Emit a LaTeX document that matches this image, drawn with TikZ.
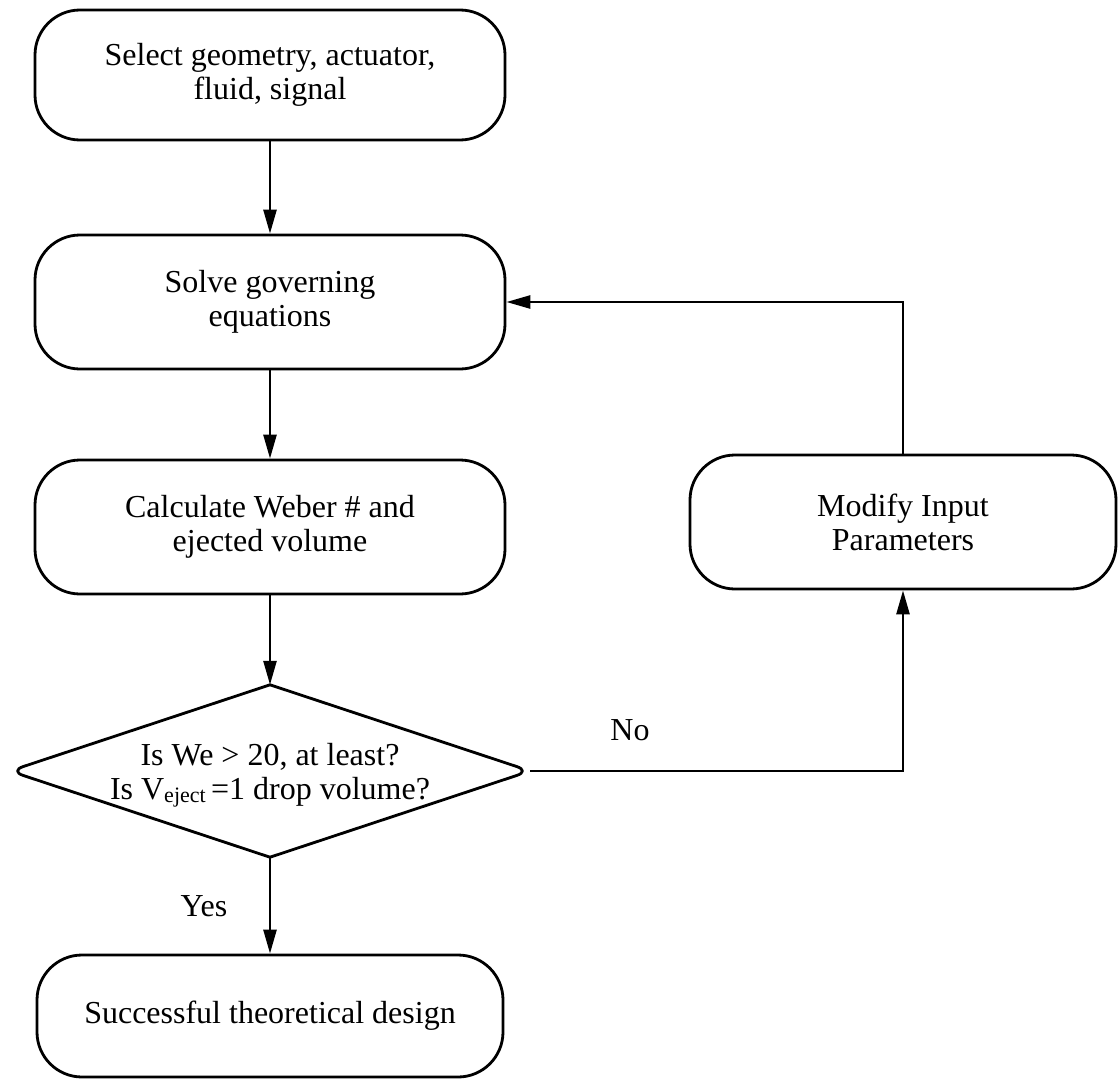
\documentclass[tikz,border=0pt]{standalone}
\usepackage{fontspec}
\setmainfont{Liberation Serif}
\usetikzlibrary{arrows.meta,shapes.geometric}
\begin{document}
\begin{tikzpicture}[x=1pt,y=-1pt,
  every node/.style={font=\fontsize{32}{34}\selectfont},
  procbox/.style={draw, line width=2.8pt, rounded corners=45pt, align=center, inner sep=0pt},
  conn/.style={line width=2.6pt, -{Triangle[length=24pt,width=13pt]}},
  halfdiamond/.style={line width=2.8pt, rounded corners=14pt, line cap=round, line join=round}]
\fill[white] (0,0) rectangle (1119,1081);
\useasboundingbox (0,0) rectangle (1119,1081);

\node[procbox, minimum width=470pt, minimum height=130pt] (b1) at (270,75)
  {Select geometry, actuator,\\fluid, signal};
\node[procbox, minimum width=470pt, minimum height=134pt] (b2) at (270,302)
  {Solve governing\\equations};
\node[procbox, minimum width=470pt, minimum height=134pt] (b3) at (270,527)
  {Calculate Weber \# and\\ejected volume};
\node[diamond, draw=none, inner sep=0pt, minimum width=520pt, minimum height=172pt] (d) at (270,771) {};
\node[align=center] (dt) at (270,775)
  {Is We {>} 20, at least?\\Is V\raisebox{-3pt}{\fontsize{22}{22}\selectfont eject}\,=1 drop volume?};
\node[procbox, minimum width=466pt, minimum height=122pt] (b5) at (270,1016)
  {Successful theoretical design};
\node[procbox, minimum width=426pt, minimum height=134pt] (m) at (903,522)
  {Modify Input\\Parameters};

\draw[halfdiamond] (d.north) -- (d.east) -- (d.south);
\draw[halfdiamond] (d.south) -- (d.west) -- (d.north);

\draw[conn] (b1) -- (b2);
\draw[conn] (b2) -- (b3);
\draw[conn] (b3) -- (d.north);
\draw[conn] (d.south) -- (b5);
\draw[conn] (d.east) -| (m.south);
\draw[conn] (m.north) |- (b2.east);

\node (yes) at (204,906) {Yes};
\node (no) at (630,730) {No};
\end{tikzpicture}
\end{document}
